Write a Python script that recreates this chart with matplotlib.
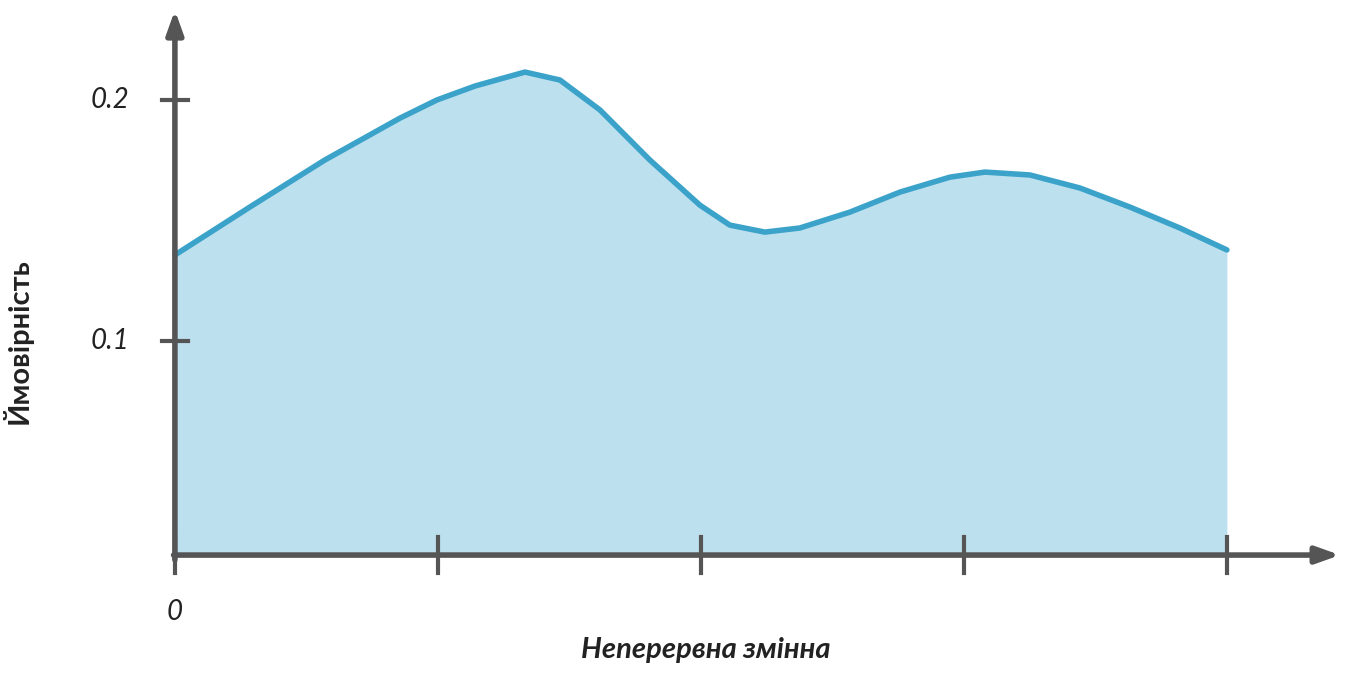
import matplotlib
matplotlib.use("Agg")
import matplotlib.pyplot as plt

xs = [0, 0.285, 0.570, 0.856, 0.996, 1.141, 1.331, 1.464, 1.616, 1.806, 1.996, 2.110,
      2.243, 2.376, 2.567, 2.757, 2.947, 3.080, 3.251, 3.441, 3.631, 3.821, 4.0]
ys = [0.1357, 0.1556, 0.1751, 0.1925, 0.2, 0.2058, 0.2116, 0.2083, 0.1959, 0.1751, 0.1564,
      0.1481, 0.1452, 0.1469, 0.1535, 0.1618, 0.1680, 0.1701, 0.1689, 0.1635, 0.1556,
      0.1469, 0.1378]
xticks = [0, 1, 2, 3, 4]
yticks = [0.1, 0.2]
ytick_labels = ["0.1", "0.2"]
base = 0.0112

fig = plt.figure(figsize=(13.5, 6.84), dpi=100)
ax = fig.add_axes([0, 0, 1, 1])
ax.set_xlim(-0.665, 4.468)
ax.set_ylim(-0.0423, 0.2415)
ax.axis("off")

ax.fill_between(xs, base, ys, color="#bde0ef", lw=0)
ax.plot(xs, ys, color="#3ba3c9", lw=4, solid_capstyle="round", solid_joinstyle="round")

ac = "#555555"
ax.annotate("", xy=(4.43, base), xytext=(-0.005, base),
            arrowprops=dict(arrowstyle="-|>,head_length=1.4,head_width=0.5", color=ac, lw=4, shrinkA=0, shrinkB=0))
ax.annotate("", xy=(0, 0.2373), xytext=(0, base - 0.002),
            arrowprops=dict(arrowstyle="-|>,head_length=1.4,head_width=0.5", color=ac, lw=4, shrinkA=0, shrinkB=0))
for x in xticks:
    ax.plot([x, x], [base - 0.0075, base + 0.0075], color=ac, lw=3)
for y, l in zip(yticks, ytick_labels):
    ax.plot([-0.05, 0.05], [y, y], color=ac, lw=3)
    ax.text(-0.175, y, l, ha="right", va="center", fontsize=20, style="italic", family="Lato", color="#222222")
ax.text(0, -0.0123, "0", ha="center", va="center", fontsize=20, style="italic", family="Lato", color="#222222")
ax.text(2.02, -0.028, "Неперервна змінна", ha="center", va="center", fontsize=21, style="italic",
        weight="bold", family="Lato", color="#222222")
ax.text(-0.60, 0.1, "Ймовірність", ha="center", va="center", rotation=90, fontsize=21,
        weight="bold", family="Lato", color="#222222")
fig.savefig("out.png", dpi=100, facecolor="white")
